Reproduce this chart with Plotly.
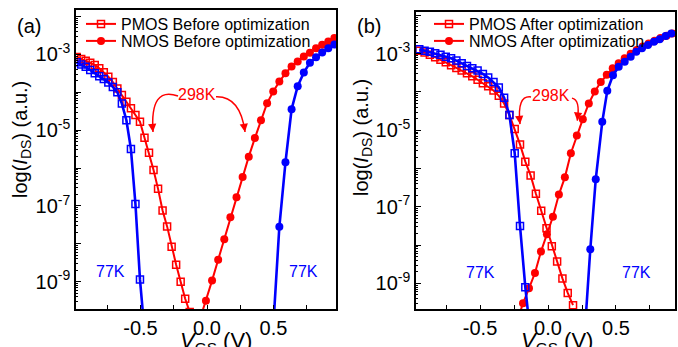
import plotly.graph_objects as go

RED = "#ff0000"
BLUE = "#0000ff"
FONT = "Liberation Sans, Arial, sans-serif"
W, H = 678, 347

# ---------------- (a) before optimization ----------------
vgs_pmos_a = [-0.98, -0.946, -0.912, -0.878, -0.844, -0.81, -0.776, -0.742, -0.708,
              -0.674, -0.64, -0.606, -0.572, -0.538, -0.504, -0.47, -0.436, -0.402,
              -0.368, -0.334, -0.3, -0.266, -0.232, -0.198, -0.164, -0.13]
log_pmos_298k_a = [-3.07, -3.12, -3.17, -3.22, -3.28, -3.37, -3.47, -3.59, -3.73,
                   -3.9, -4.07, -4.25, -4.42, -4.6, -4.78, -5.2, -5.6, -6.05,
                   -6.55, -7.12, -7.54, -8.08, -8.55, -9.0, -9.45, -9.8]
vgs_pmos_77k_a = [-0.98, -0.946, -0.912, -0.878, -0.844, -0.81, -0.776, -0.742,
                  -0.708, -0.674, -0.64, -0.606, -0.572, -0.538, -0.504, -0.47]
log_pmos_77k_a = [-3.21, -3.27, -3.33, -3.41, -3.5, -3.58, -3.65, -3.74,
                  -3.86, -4.0, -4.3, -4.74, -5.5, -6.95, -8.94, -10.3]

vgs_nmos_a = [-0.054, -0.008, 0.038, 0.084, 0.13, 0.176, 0.222, 0.268, 0.314, 0.36,
              0.406, 0.452, 0.498, 0.544, 0.59, 0.636, 0.682, 0.728, 0.774, 0.82,
              0.866, 0.912, 0.958]
log_nmos_298k_a = [-10.0, -9.5, -8.97, -8.42, -7.88, -7.3, -6.77, -6.24, -5.7, -5.21,
                   -4.74, -4.29, -3.98, -3.72, -3.5, -3.32, -3.19, -3.06, -2.96, -2.84,
                   -2.75, -2.66, -2.57]
vgs_nmos_77k_a = [0.498, 0.544, 0.59, 0.636, 0.682, 0.728, 0.774, 0.82, 0.866, 0.912, 0.958]
log_nmos_77k_a = [-10.2, -7.55, -5.85, -4.45, -3.84, -3.48, -3.22, -3.08, -2.95, -2.84, -2.74]

# ---------------- (b) after optimization ----------------
vgs_pmos_b = [-0.947, -0.908, -0.869, -0.83, -0.791, -0.752, -0.713, -0.674, -0.635,
              -0.596, -0.557, -0.518, -0.479, -0.44, -0.401, -0.362, -0.323, -0.284,
              -0.245, -0.206, -0.167, -0.128, -0.089, -0.05, -0.011, 0.028, 0.067,
              0.106, 0.145, 0.184]
log_pmos_298k_b = [-2.92, -2.97, -3.03, -3.09, -3.16, -3.22, -3.3, -3.37, -3.44,
                   -3.51, -3.59, -3.68, -3.77, -3.85, -3.96, -4.1, -4.3, -4.6,
                   -4.97, -5.37, -5.82, -6.18, -6.66, -7.1, -7.56, -8.03, -8.43,
                   -8.87, -9.25, -9.57]
vgs_pmos_77k_b = [-0.947, -0.908, -0.869, -0.83, -0.791, -0.752, -0.713, -0.674, -0.635,
                  -0.596, -0.557, -0.518, -0.479, -0.44, -0.401, -0.362, -0.323, -0.284,
                  -0.245, -0.206, -0.167, -0.128]
log_pmos_77k_b = [-2.88, -2.92, -2.95, -2.99, -3.03, -3.08, -3.12, -3.18, -3.25,
                  -3.32, -3.38, -3.44, -3.53, -3.62, -3.74, -3.88, -4.15, -4.6,
                  -5.6, -7.5, -9.1, -10.4]

vgs_nmos_b = [-0.228, -0.184, -0.14, -0.096, -0.052, -0.008, 0.036, 0.08, 0.124, 0.168,
              0.212, 0.256, 0.3, 0.344, 0.388, 0.432, 0.476, 0.52, 0.564, 0.608,
              0.652, 0.696, 0.74, 0.784, 0.828, 0.872, 0.916]
log_nmos_298k_b = [-10.0, -9.52, -9.13, -8.73, -8.17, -7.72, -7.26, -6.68, -6.23, -5.6,
                   -5.14, -4.71, -4.3, -3.99, -3.74, -3.55, -3.38, -3.25, -3.12, -3.0,
                   -2.9, -2.81, -2.73, -2.66, -2.59, -2.53, -2.47]
vgs_nmos_77k_b = [0.27, 0.311, 0.351, 0.399, 0.436, 0.478, 0.52, 0.564, 0.608, 0.649,
                  0.691, 0.735, 0.779, 0.821, 0.865, 0.907]
log_nmos_77k_b = [-10.3, -8.11, -6.28, -4.78, -3.97, -3.56, -3.34, -3.21, -3.08, -2.95,
                  -2.86, -2.77, -2.69, -2.62, -2.54, -2.47]

x_tick_vals = [-0.75, -0.5, -0.25, 0.0, 0.25, 0.5, 0.75]
x_tick_text = ["", "-0.5", "", "0.0", "", "0.5", ""]
y_tick_exps = [-9, -8, -7, -6, -5, -4, -3, -2]

# plot frames in figure pixels and their axis ranges (V, log10 I)
PANELS = {
    "a": dict(xd=(76, 336), yd=(10, 309), xr=(-0.985, 0.97), yr=(-9.72, -1.83),
              xa="x", ya="y"),
    "b": dict(xd=(416, 675), yd=(12, 309), xr=(-0.971, 0.934), yr=(-9.67, -1.91),
              xa="x2", ya="y2"),
}


def amps(logs):
    return [10 ** v for v in logs]


def to_paper(panel, v, lg):
    p = PANELS[panel]
    fx = (v - p["xr"][0]) / (p["xr"][1] - p["xr"][0])
    fy = (lg - p["yr"][0]) / (p["yr"][1] - p["yr"][0])
    xpix = p["xd"][0] + fx * (p["xd"][1] - p["xd"][0])
    ypix = p["yd"][1] - fy * (p["yd"][1] - p["yd"][0])
    return xpix / W, 1 - ypix / H


def curve(x, logs, color, symbol, width, panel, name=None, legend=None):
    filled = symbol == "circle"
    return go.Scatter(
        x=x, y=amps(logs), mode="lines+markers",
        xaxis=PANELS[panel]["xa"], yaxis=PANELS[panel]["ya"],
        name=name, showlegend=name is not None, legend=legend,
        line=dict(color=color, width=width),
        marker=dict(symbol=symbol, size=8 if filled else 7, color=color,
                    line=dict(color=color, width=0 if filled else 1.5)),
    )


fig = go.Figure()
# 298 K curves first so the 77 K curves sit on top
fig.add_trace(curve(vgs_pmos_a, log_pmos_298k_a, RED, "square-open", 2, "a",
                    "PMOS Before optimization", "legend"))
fig.add_trace(curve(vgs_nmos_a, log_nmos_298k_a, RED, "circle", 2, "a",
                    "NMOS Before optimization", "legend3"))
fig.add_trace(curve(vgs_pmos_77k_a, log_pmos_77k_a, BLUE, "square-open", 2.6, "a"))
fig.add_trace(curve(vgs_nmos_77k_a, log_nmos_77k_a, BLUE, "circle", 2.6, "a"))

fig.add_trace(curve(vgs_pmos_b, log_pmos_298k_b, RED, "square-open", 2, "b",
                    "PMOS After optimization", "legend2"))
fig.add_trace(curve(vgs_nmos_b, log_nmos_298k_b, RED, "circle", 2, "b",
                    "NMOS After optimization", "legend4"))
fig.add_trace(curve(vgs_pmos_77k_b, log_pmos_77k_b, BLUE, "square-open", 2.6, "b"))
fig.add_trace(curve(vgs_nmos_77k_b, log_nmos_77k_b, BLUE, "circle", 2.6, "b"))


def xaxis(panel, anchor):
    p = PANELS[panel]
    return dict(domain=[p["xd"][0] / W, p["xd"][1] / W], range=list(p["xr"]),
                anchor=anchor, tickmode="array",
                tickvals=x_tick_vals, ticktext=x_tick_text, ticks="inside",
                ticklen=4, tickwidth=1.2, tickcolor="black", showline=True,
                linecolor="black", linewidth=1.5, mirror=True, showgrid=False,
                zeroline=False, tickfont=dict(size=20, color="black", family=FONT))


def yaxis(panel, anchor):
    p = PANELS[panel]
    minor_vals = [m * 10 ** e for e in range(-10, -1) for m in range(2, 10)]
    return dict(domain=[1 - p["yd"][1] / H, 1 - p["yd"][0] / H], range=list(p["yr"]),
                anchor=anchor, type="log", tickmode="array",
                tickvals=[10 ** e for e in y_tick_exps],
                ticktext=["10<sup>%d</sup>" % e if e % 2 else "" for e in y_tick_exps],
                ticks="inside", ticklen=5, tickwidth=1.2, tickcolor="black",
                minor=dict(tickmode="array", tickvals=minor_vals, ticks="inside",
                           ticklen=2.5, tickwidth=1, tickcolor="black", showgrid=False),
                showline=True, linecolor="black", linewidth=1.5, mirror=True,
                showgrid=False, zeroline=False,
                tickfont=dict(size=20, color="black", family=FONT))


def px(x, y):
    return dict(x=x / W, y=1 - y / H, xref="paper", yref="paper",
                xanchor="center", yanchor="middle")


annotations = []
shapes = []

# panel letters, axis titles
for label, x0 in (("(a)", 29), ("(b)", 369)):
    annotations.append(dict(text=label, showarrow=False, font=dict(size=20, color="black"),
                            **px(x0, 26)))
for x0, y0 in ((21, 140), (362, 138)):
    annotations.append(dict(text="log(<i>I</i><sub>DS</sub>) (a.u.)", textangle=-90,
                            showarrow=False, font=dict(size=20, color="black"),
                            **px(x0, y0)))
for x0 in (216, 557):
    a = dict(text="<i>V</i><sub>GS</sub> (V)", showarrow=False,
             font=dict(size=22, color="black"), **px(x0, 326))
    a["yanchor"] = "top"
    annotations.append(a)

# temperature labels (V, log10 I)
temp_labels = [("a", -0.075, -4.07, "298K", RED),
               ("a", -0.729, -8.74, "77K", BLUE),
               ("a", 0.722, -8.74, "77K", BLUE),
               ("b", 0.022, -4.08, "298K", RED),
               ("b", -0.5, -8.71, "77K", BLUE),
               ("b", 0.654, -8.71, "77K", BLUE)]
for pn, xv, yv, txt, col in temp_labels:
    annotations.append(dict(text=txt, x=xv, y=yv, xref=PANELS[pn]["xa"],
                            yref=PANELS[pn]["ya"], showarrow=False,
                            xanchor="center", yanchor="middle",
                            font=dict(size=16, color=col)))

# curved pointers from the 298K labels: (start, control, tip) in V / log10 I
pointers = [("a", (-0.218, -4.10), (-0.43, -3.83), (-0.406, -5.05)),
            ("a", (0.068, -4.12), (0.25, -4.10), (0.286, -5.05)),
            ("b", (-0.125, -4.13), (-0.23, -4.08), (-0.206, -4.84)),
            ("b", (0.176, -4.16), (0.24, -4.2), (0.215, -4.75))]
for pn, s, c, e in pointers:
    pts = [to_paper(pn, *s), to_paper(pn, *c), to_paper(pn, *e)]
    shapes.append(dict(type="path", xref="paper", yref="paper",
                       path="M %f,%f Q %f,%f %f,%f" % (pts[0] + pts[1] + pts[2]),
                       line=dict(color=RED, width=1.5)))
    dx = e[0] - c[0]
    annotations.append(dict(text="", x=e[0], y=e[1], xref=PANELS[pn]["xa"],
                            yref=PANELS[pn]["ya"], ax=-dx * 30, ay=-7,
                            showarrow=True, arrowhead=2, arrowsize=1.1,
                            arrowwidth=1.5, arrowcolor=RED))

leg = dict(xanchor="left", yanchor="top", bgcolor="rgba(0,0,0,0)", borderwidth=0,
           itemwidth=30, font=dict(size=16, color="black", family=FONT),
           tracegroupgap=0)

fig.update_layout(
    width=W, height=H, autosize=False,
    margin=dict(l=0, r=0, t=0, b=0),
    paper_bgcolor="white", plot_bgcolor="white",
    font=dict(family=FONT, color="black"),
    xaxis=xaxis("a", "y"),
    yaxis=yaxis("a", "x"),
    xaxis2=xaxis("b", "y2"),
    yaxis2=yaxis("b", "x2"),
    legend=dict(x=81 / W, y=1 - 7 / H, **leg),
    legend3=dict(x=81 / W, y=1 - 24 / H, **leg),
    legend2=dict(x=429 / W, y=1 - 7 / H, **leg),
    legend4=dict(x=429 / W, y=1 - 24 / H, **leg),
    annotations=annotations,
    shapes=shapes,
)

fig.write_html("out.html")
